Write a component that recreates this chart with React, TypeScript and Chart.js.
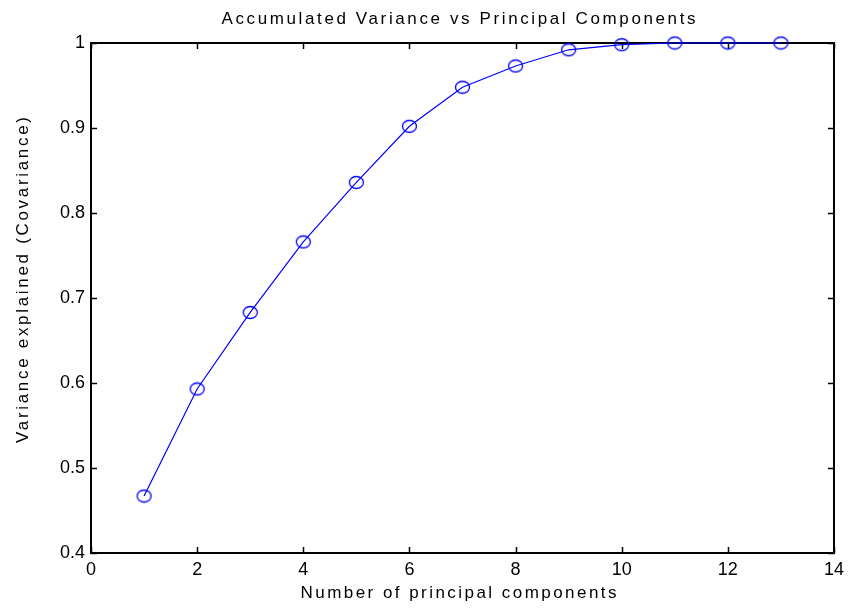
import React, { useEffect, useRef } from "react";
import { Chart, registerables } from "chart.js";

Chart.register(...registerables);

// Number of principal components kept
const components = [1, 2, 3, 4, 5, 6, 7, 8, 9, 10, 11, 12, 13];
// Cumulative fraction of variance explained
const accumulatedVariance = [0.467, 0.593, 0.683, 0.766, 0.836, 0.902, 0.948, 0.973, 0.992, 0.998, 1.0, 1.0, 1.0];

const xTicks = [0, 2, 4, 6, 8, 10, 12, 14];
const yTicks = [0.4, 0.5, 0.6, 0.7, 0.8, 0.9, 1.0];

const titleText = "Accumulated Variance vs Principal Components";
const xTitleText = "Number of principal components";
const yTitleText = "Variance explained (Covariance)";

const FONT = "Arial, 'Liberation Sans', Helvetica, sans-serif";
const LINE_BLUE = "#0000ff";

function ellipseMarker(): HTMLCanvasElement {
  const c = document.createElement("canvas");
  c.width = 17;
  c.height = 15;
  const g = c.getContext("2d")!;
  g.strokeStyle = LINE_BLUE;
  g.lineWidth = 1.3;
  g.beginPath();
  g.ellipse(8.5, 7.5, 7, 6, 0, 0, Math.PI * 2);
  g.stroke();
  return c;
}

function spacedText(
  ctx: CanvasRenderingContext2D,
  text: string,
  x: number,
  y: number,
  targetWidth: number
) {
  (ctx as any).letterSpacing = "0px";
  const w = ctx.measureText(text).width;
  const sp = Math.max(0, (targetWidth - w) / Math.max(1, text.length - 1));
  (ctx as any).letterSpacing = sp + "px";
  ctx.textAlign = "left";
  ctx.fillText(text, x - targetWidth / 2, y);
  (ctx as any).letterSpacing = "0px";
}

const framePlugin = {
  id: "matlabFrame",
  beforeDatasetsDraw(chart: any) {
    const { ctx, chartArea: a, scales } = chart;
    ctx.save();
    ctx.strokeStyle = "#000";
    ctx.lineWidth = 1.5;
    const len = 6;
    ctx.beginPath();
    for (const v of xTicks) {
      const px = Math.round(scales.x.getPixelForValue(v)) + 0.5;
      ctx.moveTo(px, a.bottom);
      ctx.lineTo(px, a.bottom - len);
      ctx.moveTo(px, a.top);
      ctx.lineTo(px, a.top + len);
    }
    for (const v of yTicks) {
      const py = Math.round(scales.y.getPixelForValue(v)) + 0.5;
      ctx.moveTo(a.left, py);
      ctx.lineTo(a.left + len, py);
      ctx.moveTo(a.right, py);
      ctx.lineTo(a.right - len, py);
    }
    ctx.stroke();
    ctx.lineWidth = 2;
    ctx.strokeRect(a.left, a.top, a.right - a.left, a.bottom - a.top);
    ctx.restore();
  },
  afterDraw(chart: any) {
    const { ctx, chartArea: a } = chart;
    ctx.save();
    ctx.fillStyle = "#000";
    ctx.textBaseline = "middle";
    ctx.font = `17px ${FONT}`;
    const cx = (a.left + a.right) / 2;
    spacedText(ctx, titleText, cx - 4, 19, 474);
    spacedText(ctx, xTitleText, cx - 4, 593, 316);
    ctx.translate(23, 280);
    ctx.rotate(-Math.PI / 2);
    spacedText(ctx, yTitleText, 0, 0, 326);
    ctx.restore();
  },
};

export default function App() {
  const canvasRef = useRef<HTMLCanvasElement | null>(null);

  useEffect(() => {
    const canvas = canvasRef.current;
    if (!canvas) return;
    const marker = ellipseMarker();
    const chart = new Chart(canvas, {
      type: "line",
      data: {
        datasets: [
          {
            data: components.map((c, i) => ({ x: c, y: accumulatedVariance[i] })),
            borderColor: LINE_BLUE,
            borderWidth: 1.2,
            pointStyle: marker as any,
            pointRadius: 7,
            pointHoverRadius: 7,
            fill: false,
            tension: 0,
            clip: false as any,
          },
        ],
      },
      options: {
        animation: false,
        responsive: false,
        events: [],
        layout: { padding: { top: 43, right: 13, left: 0, bottom: 0 } },
        plugins: {
          legend: { display: false },
          title: { display: false },
          tooltip: { enabled: false },
        },
        scales: {
          x: {
            type: "linear",
            min: 0,
            max: 14,
            grid: { display: false, drawTicks: false },
            border: { display: false },
            afterBuildTicks: (s: any) => {
              s.ticks = xTicks.map((v) => ({ value: v }));
            },
            afterFit: (s: any) => {
              s.height = 56;
            },
            ticks: {
              color: "#000",
              padding: 6,
              maxRotation: 0,
              autoSkip: false,
              font: { family: FONT, size: 18 },
              callback: (v: any) => String(v),
            },
          },
          y: {
            type: "linear",
            min: 0.4,
            max: 1.0,
            grid: { display: false, drawTicks: false },
            border: { display: false },
            afterBuildTicks: (s: any) => {
              s.ticks = yTicks.map((v) => ({ value: v }));
            },
            afterFit: (s: any) => {
              s.width = 91;
            },
            ticks: {
              color: "#000",
              padding: 6,
              autoSkip: false,
              font: { family: FONT, size: 18 },
              callback: (v: any) => String(Number(Number(v).toFixed(1))),
            },
          },
        },
      },
      plugins: [framePlugin],
    });
    return () => chart.destroy();
  }, []);

  return (
    <div style={{ position: "absolute", left: 0, top: 0, width: 850, height: 609, background: "#fff" }}>
      <canvas ref={canvasRef} width={850} height={609} style={{ display: "block" }} />
    </div>
  );
}
